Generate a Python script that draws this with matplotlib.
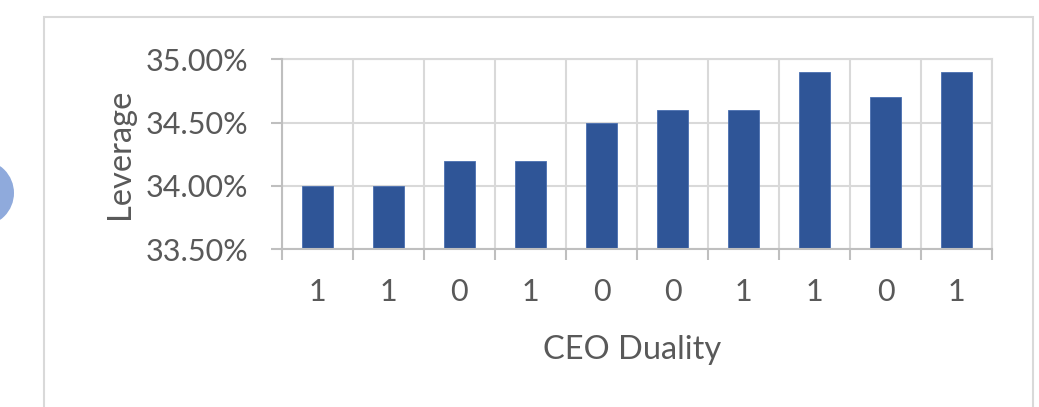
import matplotlib
matplotlib.use("Agg")
import matplotlib.pyplot as plt
from matplotlib import patches
from matplotlib.ticker import FuncFormatter, FixedLocator

# data
duality = ["1", "1", "0", "1", "0", "0", "1", "1", "0", "1"]
leverage = [34.0, 34.0, 34.2, 34.2, 34.5, 34.6, 34.6, 34.9, 34.7, 34.9]  # percent
y_ticks = [33.5, 34.0, 34.5, 35.0]

bar_color = "#2F5597"
grid_color = "#D9D9D9"
axis_color = "#BFBFBF"
text_color = "#595959"

plt.rcParams["font.family"] = ["Lato", "DejaVu Sans"]

W, H = 1039, 407
fig = plt.figure(figsize=(W / 100, H / 100), dpi=100)

# outer chart border
fig.patches.append(patches.Rectangle((44 / W, -0.05), (1033 - 44) / W, 1.05 - 17 / H,
                                     transform=fig.transFigure, fill=False,
                                     edgecolor=grid_color, linewidth=1.5))
# partially visible circle at the left edge
fig.patches.append(patches.Ellipse((-19 / W, 1 - 193 / H), 66 / W, 66 / H,
                                   transform=fig.transFigure, facecolor="#8FAADC",
                                   edgecolor="none"))

ax = fig.add_axes([281.7 / W, 1 - 249.3 / H, (992.3 - 281.7) / W, (249.3 - 59.3) / H])

x = list(range(len(duality)))
ax.bar(x, [v - y_ticks[0] for v in leverage], bottom=y_ticks[0], width=0.435,
       color=bar_color, edgecolor="#4A6FB0", linewidth=0.6, zorder=3)

ax.set_xlim(-0.5, len(duality) - 0.5)
ax.set_ylim(y_ticks[0], y_ticks[-1])

ax.set_yticks(y_ticks)
ax.yaxis.set_major_formatter(FuncFormatter(lambda v, p: f"{v:.2f}%"))
ax.set_xticks(x)
ax.set_xticklabels(duality)
ax.xaxis.set_minor_locator(FixedLocator([i - 0.5 for i in range(len(duality) + 1)]))

ax.tick_params(axis="x", which="major", length=0, pad=20.5, labelsize=22, labelcolor=text_color)
ax.tick_params(axis="x", which="minor", length=8, width=1.5, color=axis_color)
ax.tick_params(axis="y", length=8, width=1.5, color=axis_color, pad=16,
               labelsize=22, labelcolor=text_color)

ax.grid(True, axis="y", which="major", color=grid_color, linewidth=1.5, zorder=0)
ax.grid(True, axis="x", which="minor", color=grid_color, linewidth=1.5, zorder=0)

for side in ["top", "right"]:
    ax.spines[side].set_color(grid_color)
    ax.spines[side].set_linewidth(1.5)
for side in ["left", "bottom"]:
    ax.spines[side].set_color(axis_color)
    ax.spines[side].set_linewidth(1.5)
    ax.spines[side].set_zorder(4)

ax.set_ylabel("Leverage", fontsize=23.5, color=text_color)
ax.set_xlabel("CEO Duality", fontsize=23.5, color=text_color)
ax.yaxis.set_label_coords(-0.2064, 0.5)
ax.xaxis.set_label_coords(0.4937, -0.451)

fig.savefig("out.png", dpi=100)
